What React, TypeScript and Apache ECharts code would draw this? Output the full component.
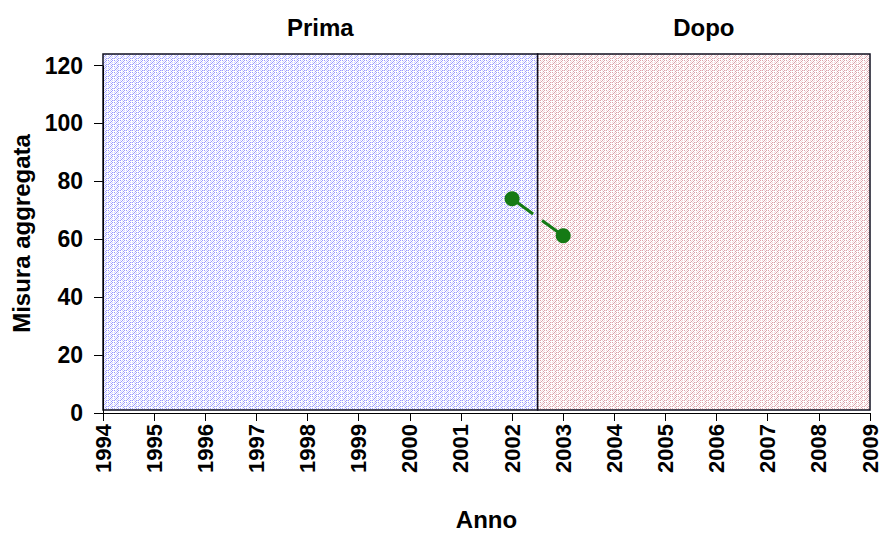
import React, { useEffect, useRef } from "react";
import * as echarts from "echarts";

const years = [2002, 2003];
const values = [74, 61.2];
const periods = [
  { name: "Prima", from: 1994, to: 2002.5 },
  { name: "Dopo", from: 2002.5, to: 2009 },
];
const shadeBottom = 1;
const shadeTop = 124;
const yTicks = [0, 20, 40, 60, 80, 100, 120];
const xMin = 1994;
const xMax = 2009;

const FONT = '"Liberation Sans", Arial, sans-serif';

const TILE = [
  [2, 0, 1, 0, 2, 0],
  [0, 1, 0, 2, 0, 0],
  [1, 0, 2, 0, 1, 0],
  [0, 2, 0, 1, 0, 0],
  [2, 0, 1, 0, 2, 1],
  [0, 0, 0, 2, 0, 0],
];

function makePattern(dark: string, light: string): string {
  const c = document.createElement("canvas");
  c.width = 6;
  c.height = 6;
  const ctx = c.getContext("2d")!;
  ctx.fillStyle = "#ffffff";
  ctx.fillRect(0, 0, 6, 6);
  for (let y = 0; y < 6; y++) {
    for (let x = 0; x < 6; x++) {
      const v = TILE[y][x];
      if (v === 0) continue;
      ctx.fillStyle = v === 2 ? dark : light;
      ctx.fillRect(x, y, 1, 1);
    }
  }
  return c.toDataURL();
}

export default function App() {
  const ref = useRef<HTMLDivElement>(null);
  useEffect(() => {
    document.body.style.margin = "0";
    const chart = echarts.init(ref.current!, null, { renderer: "svg" });
    const blue = makePattern("#9a9aff", "#d2d2ff");
    const red = makePattern("#dba2aa", "#f2d6da");
    const fills = [blue, red];
    chart.setOption({
      animation: false,
      backgroundColor: "#ffffff",
      grid: { left: 103, right: 17, top: 54, bottom: 126, outerBoundsMode: "none", containLabel: false },
      xAxis: {
        type: "value",
        min: xMin,
        max: xMax,
        interval: 1,
        name: "Anno",
        nameLocation: "middle",
        nameGap: 94,
        nameTextStyle: { fontFamily: FONT, fontWeight: "bold", fontSize: 24, color: "#000" },
        axisLine: { show: true, lineStyle: { color: "#000", width: 1 } },
        axisTick: { show: true, length: 8, lineStyle: { color: "#000" } },
        axisLabel: {
          rotate: 90,
          margin: 11,
          fontFamily: FONT,
          fontWeight: "bold",
          fontSize: 22,
          color: "#000",
          formatter: (v: number) => String(v),
        },
        splitLine: { show: false },
      },
      yAxis: {
        type: "value",
        min: 0,
        max: shadeTop,
        name: "Misura aggregata",
        nameLocation: "middle",
        nameGap: 62,
        nameTextStyle: { fontFamily: FONT, fontWeight: "bold", fontSize: 24, color: "#000" },
        axisLine: { show: false },
        axisTick: { show: true, length: 9, lineStyle: { color: "#000" }, customValues: yTicks },
        axisLabel: {
          margin: 20,
          fontFamily: FONT,
          fontWeight: "bold",
          fontSize: 23,
          color: "#000",
          customValues: yTicks,
          formatter: (v: number) => String(v),
        },
        splitLine: { show: false },
      },
      series: [
        {
          type: "line",
          data: years.map((y, i) => [y, values[i]]),
          symbol: "circle",
          symbolSize: 15,
          itemStyle: { color: "#157a15" },
          lineStyle: { color: "#157a15", width: 3, type: [26, 11] },
          z: 5,
          markArea: {
            silent: true,
            data: periods.map((p, i) => [
              {
                name: p.name,
                xAxis: p.from,
                yAxis: shadeBottom,
                itemStyle: {
                  color: { image: fills[i], repeat: "repeat", imageWidth: 6, imageHeight: 6 },
                  borderColor: "#101020",
                  borderWidth: 1.5,
                  opacity: 1,
                },
              },
              { xAxis: p.to, yAxis: shadeTop },
            ]),
            label: {
              show: true,
              position: "top",
              distance: 14,
              fontFamily: FONT,
              fontWeight: "bold",
              fontSize: 24,
              color: "#000",
            },
          },
          markLine: {
            silent: true,
            symbol: "none",
            label: { show: false },
            lineStyle: { color: "#000", width: 1, type: "solid" },
            data: [[{ coord: [xMin, yTicks[0]] }, { coord: [xMin, yTicks[yTicks.length - 1]] }]],
          },
        },
      ],
    });
    return () => chart.dispose();
  }, []);
  return <div ref={ref} style={{ width: 887, height: 539 }} />;
}
